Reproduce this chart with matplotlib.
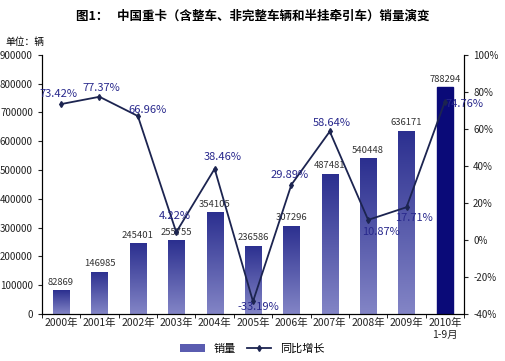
import numpy as np
import matplotlib.pyplot as plt
from matplotlib.lines import Line2D
from matplotlib.patches import Patch
from matplotlib.colors import LinearSegmentedColormap

plt.rcParams['font.family'] = ['Noto Sans CJK SC', 'DejaVu Sans']

# data
years = ['2000年', '2001年', '2002年', '2003年', '2004年', '2005年',
         '2006年', '2007年', '2008年', '2009年', '2010年\n1-9月']
sales = [82869, 146985, 245401, 255755, 354105, 236586,
         307296, 487481, 540448, 636171, 788294]
growth = [73.42, 77.37, 66.96, 4.22, 38.46, -33.19,
          29.89, 58.64, 10.87, 17.71, 74.76]

fig = plt.figure(figsize=(5.05, 3.61), dpi=100)
ax = fig.add_axes([0.083, 0.130, 0.836, 0.718])
x = np.arange(len(years))

bars = ax.bar(x, sales, width=0.42, color='#3a3d9a', zorder=2)

# gradient fill for bars (dark at top, light at bottom), last bar solid navy
grad = np.linspace(0, 1, 256).reshape(-1, 1)
cmap = LinearSegmentedColormap.from_list('bar', ['#8385c6', '#2b2f8f'])
for i, b in enumerate(bars):
    if i == len(bars) - 1:
        b.set_color('#0a0a78')
        continue
    b.set_facecolor('none')
    bx, by, bw, bh = b.get_x(), b.get_y(), b.get_width(), b.get_height()
    im = ax.imshow(grad, cmap=cmap, aspect='auto', origin='lower',
                   extent=[bx, bx + bw, by, by + bh], zorder=2)
    im.set_clip_path(b)

ax.set_xlim(-0.5, len(years) - 0.5)
ax.set_ylim(0, 900000)
ax.set_yticks(range(0, 900001, 100000))
ax.set_xticks(x)
ax.set_xticklabels(years, fontsize=7.5, color='#222222')
ax.tick_params(axis='y', labelsize=7, colors='#222222', length=3)
ax.tick_params(axis='x', length=0, pad=3)
ax.set_xticks(np.arange(-0.5, len(years), 1), minor=True)
ax.tick_params(axis='x', which='minor', length=3)
ax.spines['top'].set_visible(False)

for xi, v in zip(x, sales):
    ax.text(xi, v + 12000, str(v), ha='center', va='bottom',
            fontsize=6.8, color='#333333', zorder=4)

ax2 = ax.twinx()
ax2.set_ylim(-40, 100)
ax2.set_yticks(range(-40, 101, 20))
ax2.set_yticklabels([f'{t}%' for t in range(-40, 101, 20)])
ax2.tick_params(axis='y', labelsize=7, colors='#222222', length=3)
ax2.spines['top'].set_visible(False)
ax2.plot(x, growth, color='#1c2450', lw=1.3, marker='d', ms=3, zorder=5)

# label offsets (category units, percent units)
offsets = [(-0.08, 5.4), (0.05, 5), (0.25, 3.2), (-0.05, 9), (0.22, 6.5), (0.15, -3),
           (-0.05, 5.4), (0.05, 4.5), (0.33, -6.5), (0.2, -6), (0.5, -1.5)]
for xi, g, (dx, dy) in zip(x, growth, offsets):
    ax2.text(xi + dx, g + dy, f'{g:.2f}%', ha='center', va='center',
             fontsize=8, color='#28288c', fontweight='medium', zorder=6)

handles = [Patch(facecolor='#5a5cb0', edgecolor='none'),
           Line2D([0], [0], color='#1c2450', lw=1.3, marker='d', ms=3)]
fig.legend(handles, ['销量', '同比增长'], loc='center', bbox_to_anchor=(0.5, 0.035),
           ncol=2, frameon=False, fontsize=8, handlelength=2.2, columnspacing=1.0)

fig.text(0.5, 0.955, '图1：   中国重卡（含整车、非完整车辆和半挂牵引车）销量演变',
         ha='center', va='center', fontsize=9, fontweight='bold')
fig.text(0.01, 0.885, '单位：辆', fontsize=7, va='center')

fig.savefig('out.png', dpi=100)
